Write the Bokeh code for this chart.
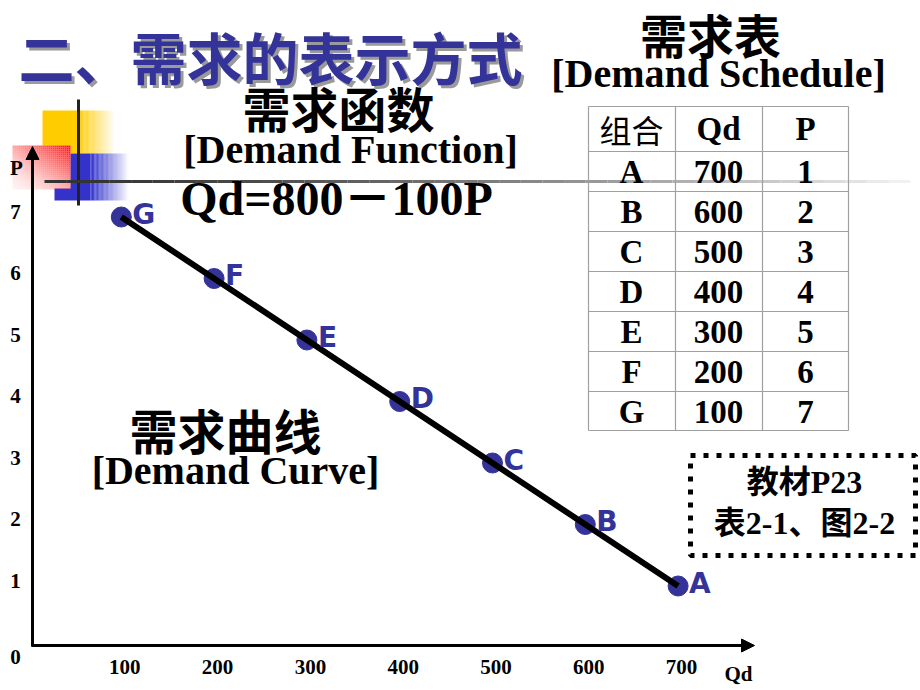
import numpy as np
from bokeh.plotting import figure
from bokeh.models import Range1d, Arrow, NormalHead
from bokeh.core.properties import value
from bokeh.embed import file_html
from bokeh.resources import INLINE

# ---------------- data ----------------
points = ["A", "B", "C", "D", "E", "F", "G"]
qd = [700, 600, 500, 400, 300, 200, 100]
price = [1, 2, 3, 4, 5, 6, 7]
x_ticks = [100, 200, 300, 400, 500, 600, 700]
y_ticks = [1, 2, 3, 4, 5, 6, 7]
table_header = ["组合", "Qd", "P"]

# ---------------- layout ----------------
W, H = 920, 690
QX, Q0 = 0.928, 28.0   # px per Qd unit, pixel of Qd = 0
PY, P0 = 61.5, 647.0   # px per P unit, pixel of P = 0

p = figure(width=W, height=H,
           x_range=Range1d(-Q0 / QX, (W - Q0) / QX),
           y_range=Range1d((P0 - H) / PY, P0 / PY),
           x_axis_location=None, y_axis_location=None,
           output_backend="svg", toolbar_location=None, min_border=0)
p.grid.visible = False
p.outline_line_color = None
p.background_fill_color = "white"
p.border_fill_color = "white"
p.extra_x_ranges = {"px": Range1d(0, W)}
p.extra_y_ranges = {"px": Range1d(H, 0)}
PX = dict(x_range_name="px", y_range_name="px")

SERIF = value("Liberation Serif")
CJK = value("Noto Sans CJK SC")
MIX = value("Liberation Serif, Noto Sans CJK SC")
NAVY = "#333399"


def txt(x, y, s, size, font=SERIF, color="black", align="center", style="bold"):
    p.text(x=[x], y=[y], text=[s], text_font=font, text_font_size=f"{size}px",
           text_font_style=style, text_color=color, text_align=align,
           text_baseline="middle", **PX)


def hfade(x0, x1, y0, y1, color, n=30):
    xs = np.linspace(x0, x1, n + 1)
    p.quad(left=xs[:-1], right=xs[1:], top=[y0] * n, bottom=[y1] * n,
           fill_color=color, fill_alpha=list(np.linspace(1, 0.02, n)),
           line_color=None, **PX)


# ---------------- decorative squares ----------------
p.quad(left=[42], right=[78], top=[110], bottom=[153], fill_color="#FFCC00", line_color=None, **PX)
hfade(78, 114, 110, 153, "#FFCC00")
p.quad(left=[54], right=[90], top=[153], bottom=[200], fill_color="#3333CC", line_color=None, **PX)
hfade(90, 128, 153, 200, "#3333CC")
p.quad(left=[12], right=[70], top=[145], bottom=[188], fill_color="white", line_color=None, **PX)
rx = np.arange(12, 70, 2.0)
ry = np.arange(145, 188, 2.0)
gx, gy = np.meshgrid(rx, ry)
t = ((gx + 1 - 12) / 58 + (188 - gy - 1) / 43) / 2
alpha = np.clip(0.05 + 0.95 * t ** 1.6, 0, 1)
p.quad(left=gx.ravel(), right=gx.ravel() + 2, top=gy.ravel(), bottom=gy.ravel() + 2,
       fill_color="red", fill_alpha=alpha.ravel().tolist(), line_color=None, **PX)
p.segment(x0=[78], y0=[99], x1=[78], y1=[205], line_color="#222222", line_width=3, **PX)
hx = np.linspace(44, 910, 41)
tt = (hx[:-1] - 44) / (910 - 44)
grey = (0x33 + (0xF8 - 0x33) * tt ** 1.4).astype(int)
p.segment(x0=hx[:-1], y0=[181] * 40, x1=hx[1:], y1=[181] * 40,
          line_color=[f"#{g:02x}{g:02x}{g:02x}" for g in grey], line_width=3, **PX)

# ---------------- titles ----------------
txt(21, 58, "二、需求的表示方式", 56, font=CJK, color="#9a9a9a", align="left")
txt(18, 55, "二、需求的表示方式", 56, font=CJK, color=NAVY, align="left")
txt(338, 106, "需求函数", 48, font=CJK)
txt(350, 149, "[Demand Function]", 40)
txt(336, 198, "Qd=800－100P", 48, font=MIX)
txt(710, 33, "需求表", 47, font=CJK)
txt(718, 73, "[Demand Schedule]", 40)
txt(225, 428, "需求曲线", 48, font=CJK)
txt(235, 470, "[Demand Curve]", 40)

# ---------------- table ----------------
col_x = [631, 718, 805]
edges_x = [588, 675, 762, 848]
edges_y = [106, 151, 191, 231, 271, 311, 351, 391, 430]
p.segment(x0=[edges_x[0]] * len(edges_y), y0=edges_y, x1=[edges_x[-1]] * len(edges_y), y1=edges_y,
          line_color="#a0a0a0", line_width=1.2, **PX)
p.segment(x0=edges_x, y0=[edges_y[0]] * 4, x1=edges_x, y1=[edges_y[-1]] * 4,
          line_color="#a0a0a0", line_width=1.2, **PX)
txt(col_x[0], 128, table_header[0], 32, font=CJK, style="normal")
txt(col_x[1], 128, table_header[1], 33)
txt(col_x[2], 128, table_header[2], 33)
row_y = [171 + 40 * i for i in range(len(points))]
for cx, col in zip(col_x, [points, [str(v) for v in qd], [str(v) for v in price]]):
    p.text(x=[cx] * len(col), y=row_y, text=col, text_font=SERIF, text_font_size="33px",
           text_font_style="bold", text_color="black", text_align="center",
           text_baseline="middle", **PX)

# ---------------- note box ----------------
p.quad(left=[690], right=[915], top=[455], bottom=[555], fill_color=None,
       line_color="black", line_width=5, line_dash="5 8", **PX)
txt(804, 481, "教材P23", 32, font=MIX)
txt(804, 522, "表2-1、图2-2", 32, font=MIX)

# ---------------- axes ----------------
p.add_layout(Arrow(end=NormalHead(size=13, fill_color="black", line_color="black"),
                   x_start=32, y_start=646, x_end=32, y_end=146, line_width=3,
                   line_color="black", x_range_name="px", y_range_name="px"))
p.add_layout(Arrow(end=NormalHead(size=13, fill_color="black", line_color="black"),
                   x_start=31, y_start=645, x_end=754, y_end=645, line_width=3,
                   line_color="black", x_range_name="px", y_range_name="px"))
p.text(x=x_ticks, y=[666] * len(x_ticks), text=[str(v) for v in x_ticks],
       text_font=SERIF, text_font_size="21px", text_font_style="bold",
       text_align="center", text_baseline="middle", x_offset=3.5,
       x_range_name="default", y_range_name="px")
p.text(x=[15] * len(y_ticks), y=y_ticks, text=[str(v) for v in y_ticks],
       text_font=SERIF, text_font_size="21px", text_font_style="bold",
       text_align="center", text_baseline="middle", y_offset=-5.5,
       x_range_name="px", y_range_name="default")
txt(15, 656, "0", 21)
txt(16, 167, "P", 21)
txt(738, 673, "Qd", 21)

# ---------------- demand curve ----------------
p.scatter(qd, price, size=20, fill_color=NAVY, line_color=NAVY)
p.line(qd, price, line_width=6, line_color="black")
p.text(x=qd, y=price, text=points, text_font=value("DejaVu Sans"), text_font_size="28px",
       text_font_style="bold", text_color=NAVY, text_align="left",
       text_baseline="middle", x_offset=11, y_offset=-3)

open("out.html", "w").write(file_html(p, INLINE))
